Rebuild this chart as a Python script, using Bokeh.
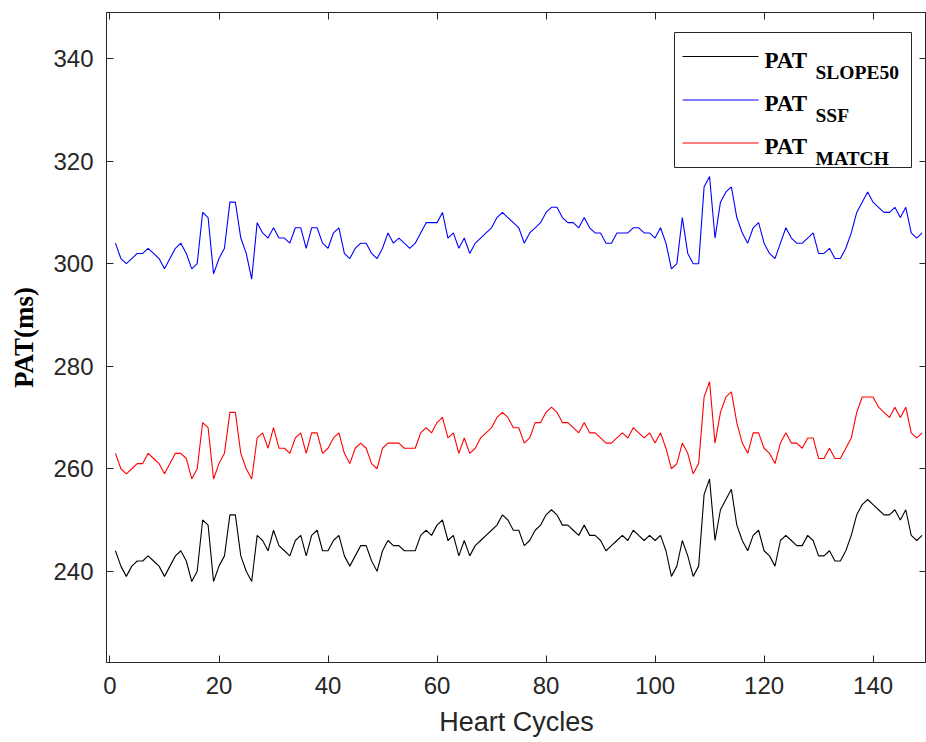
from bokeh.plotting import figure
from bokeh.models import (Range1d, LinearAxis, FixedTicker, BoxAnnotation, Label, Arrow)
from bokeh.embed import file_html
from bokeh.resources import INLINE

# ---- data ----
cycles = list(range(1, 150))

pat_ssf = [304, 301, 300, 301, 302, 302, 303, 302, 301, 299,
           301, 303, 304, 302, 299, 300, 310, 309, 298, 301,
           303, 312, 312, 305, 302, 297, 308, 306, 305, 307,
           305, 305, 304, 307, 307, 303, 307, 307, 304, 303,
           306, 307, 302, 301, 303, 304, 304, 302, 301, 303,
           306, 304, 305, 304, 303, 304, 306, 308, 308, 308,
           310, 305, 306, 303, 305, 302, 304, 305, 306, 307,
           309, 310, 309, 308, 307, 304, 306, 307, 308, 310,
           311, 311, 309, 308, 308, 307, 309, 307, 306, 306,
           304, 304, 306, 306, 306, 307, 307, 306, 306, 305,
           307, 304, 299, 300, 309, 302, 300, 300, 315, 317,
           305, 312, 314, 315, 309, 306, 304, 307, 308, 304,
           302, 301, 304, 307, 305, 304, 304, 305, 306, 302,
           302, 303, 301, 301, 303, 306, 310, 312, 314, 312,
           311, 310, 310, 311, 309, 311, 306, 305, 306]

pat_match = [263, 260, 259, 260, 261, 261, 263, 262, 261, 259,
             261, 263, 263, 262, 258, 260, 269, 268, 258, 261,
             263, 271, 271, 263, 260, 258, 266, 267, 264, 268,
             264, 264, 263, 266, 267, 263, 267, 267, 263, 264,
             266, 267, 263, 261, 264, 265, 264, 261, 260, 264,
             265, 265, 265, 264, 264, 264, 267, 268, 267, 269,
             270, 266, 267, 263, 266, 263, 264, 266, 267, 268,
             270, 271, 270, 268, 268, 265, 266, 269, 269, 271,
             272, 271, 269, 269, 268, 267, 269, 267, 267, 266,
             265, 265, 266, 267, 266, 268, 267, 266, 267, 265,
             267, 264, 260, 261, 265, 263, 259, 261, 274, 277,
             265, 271, 274, 275, 269, 265, 263, 267, 267, 264,
             263, 261, 265, 267, 265, 265, 264, 266, 266, 262,
             262, 264, 262, 262, 264, 266, 271, 274, 274, 274,
             272, 271, 270, 272, 270, 272, 267, 266, 267]

pat_slope50 = [244, 241, 239, 241, 242, 242, 243, 242, 241, 239,
               241, 243, 244, 242, 238, 240, 250, 249, 238, 241,
               243, 251, 251, 243, 240, 238, 247, 246, 244, 248,
               245, 244, 243, 246, 247, 243, 247, 248, 244, 244,
               246, 247, 243, 241, 243, 245, 245, 242, 240, 244,
               246, 245, 245, 244, 244, 244, 247, 248, 247, 249,
               250, 246, 247, 243, 246, 243, 245, 246, 247, 248,
               249, 251, 250, 248, 248, 245, 246, 248, 249, 251,
               252, 251, 249, 249, 248, 247, 249, 247, 247, 246,
               244, 245, 246, 247, 246, 248, 247, 246, 247, 246,
               247, 244, 239, 241, 246, 243, 239, 241, 255, 258,
               246, 252, 254, 256, 249, 246, 244, 247, 248, 244,
               243, 241, 246, 247, 246, 245, 245, 247, 246, 243,
               243, 244, 242, 242, 244, 247, 251, 253, 254, 253,
               252, 251, 251, 252, 250, 252, 247, 246, 247]

x_ticks = [0, 20, 40, 60, 80, 100, 120, 140]
y_ticks = [240, 260, 280, 300, 320, 340]

legend_main = ["PAT", "PAT", "PAT"]
legend_sub = ["SLOPE50", "SSF", "MATCH"]

# ---- layout ----
W, H = 926, 742
FL, FR, FT, FB = 106, 926, 12, 662
X0, X1 = -0.64, 149.8
Y0, Y1 = 222.2, 349.0

AXC = "#262626"
TICK_FONT = "Liberation Sans"

p = figure(width=W, height=H, output_backend="svg", toolbar_location=None,
           x_range=Range1d(X0, X1), y_range=Range1d(Y0, Y1),
           min_border_left=FL, min_border_right=W - FR,
           min_border_top=FT, min_border_bottom=H - FB)
p.background_fill_color = "white"
p.border_fill_color = "white"
p.outline_line_color = AXC
p.outline_line_width = 1
p.xgrid.visible = False
p.ygrid.visible = False

colors = ["#000000", "#0000FF", "#FF0000"]
series = [pat_slope50, pat_ssf, pat_match]
for ys, c in zip(series, colors):
    p.line(cycles, ys, line_color=c, line_width=1.1)

def style_axis(ax, show_labels):
    ax.axis_line_color = AXC
    ax.axis_line_width = 1
    ax.major_tick_line_color = AXC
    ax.major_tick_in = 7
    ax.major_tick_out = 0
    ax.minor_tick_line_color = None
    if show_labels:
        ax.major_label_text_font = TICK_FONT
        ax.major_label_text_font_size = "24px"
        ax.major_label_text_color = AXC
    else:
        ax.major_label_text_color = None
        ax.major_label_text_alpha = 0
        ax.major_label_text_font_size = "1px"
        ax.major_label_standoff = 0

p.xaxis.ticker = FixedTicker(ticks=x_ticks)
p.yaxis.ticker = FixedTicker(ticks=y_ticks)
style_axis(p.xaxis[0], True)
style_axis(p.yaxis[0], True)
p.xaxis.major_label_standoff = 14
p.yaxis.major_label_standoff = 13

p.xaxis.axis_label = "Heart Cycles"
p.xaxis.axis_label_text_font = TICK_FONT
p.xaxis.axis_label_text_font_style = "normal"
p.xaxis.axis_label_text_font_size = "27px"
p.xaxis.axis_label_text_color = AXC
p.xaxis.axis_label_standoff = 10

p.yaxis.axis_label = "PAT(ms)"
p.yaxis.axis_label_text_font = "Liberation Serif"
p.yaxis.axis_label_text_font_style = "bold"
p.yaxis.axis_label_text_font_size = "27px"
p.yaxis.axis_label_text_color = "#000000"
p.yaxis.axis_label_standoff = 11

top_ax = LinearAxis(ticker=FixedTicker(ticks=x_ticks))
right_ax = LinearAxis(ticker=FixedTicker(ticks=y_ticks))
style_axis(top_ax, False)
style_axis(right_ax, False)
p.add_layout(top_ax, "above")
p.add_layout(right_ax, "right")

# ---- legend built from annotations (pixel positions mapped to data space) ----
def dx(px):
    return X0 + (px - FL) / (FR - FL) * (X1 - X0)

def dy(py):
    return Y1 - (py - FT) / (FB - FT) * (Y1 - Y0)

p.add_layout(BoxAnnotation(left=dx(674), right=dx(911), top=dy(32), bottom=dy(167),
                           fill_color="white", fill_alpha=1.0,
                           line_color=AXC, line_width=1, line_alpha=1.0))

row_line_y = [56, 99.5, 142.5]
row_base_y = [60, 103, 146]
for i in range(3):
    p.add_layout(Arrow(end=None, x_start=dx(682), x_end=dx(758),
                       y_start=dy(row_line_y[i]), y_end=dy(row_line_y[i]),
                       line_color=colors[i], line_width=1.1))
    p.add_layout(Label(x=dx(764), y=dy(row_base_y[i]), text=legend_main[i],
                       text_font="Liberation Serif", text_font_style="bold",
                       text_font_size="23px", text_color="#000000",
                       text_baseline="alphabetic", text_align="left"))
    p.add_layout(Label(x=dx(815), y=dy(row_base_y[i] + 12), text=legend_sub[i],
                       text_font="Liberation Serif", text_font_style="bold",
                       text_font_size="19.5px", text_color="#000000",
                       text_baseline="alphabetic", text_align="left"))

open("out.html", "w").write(file_html(p, INLINE))
